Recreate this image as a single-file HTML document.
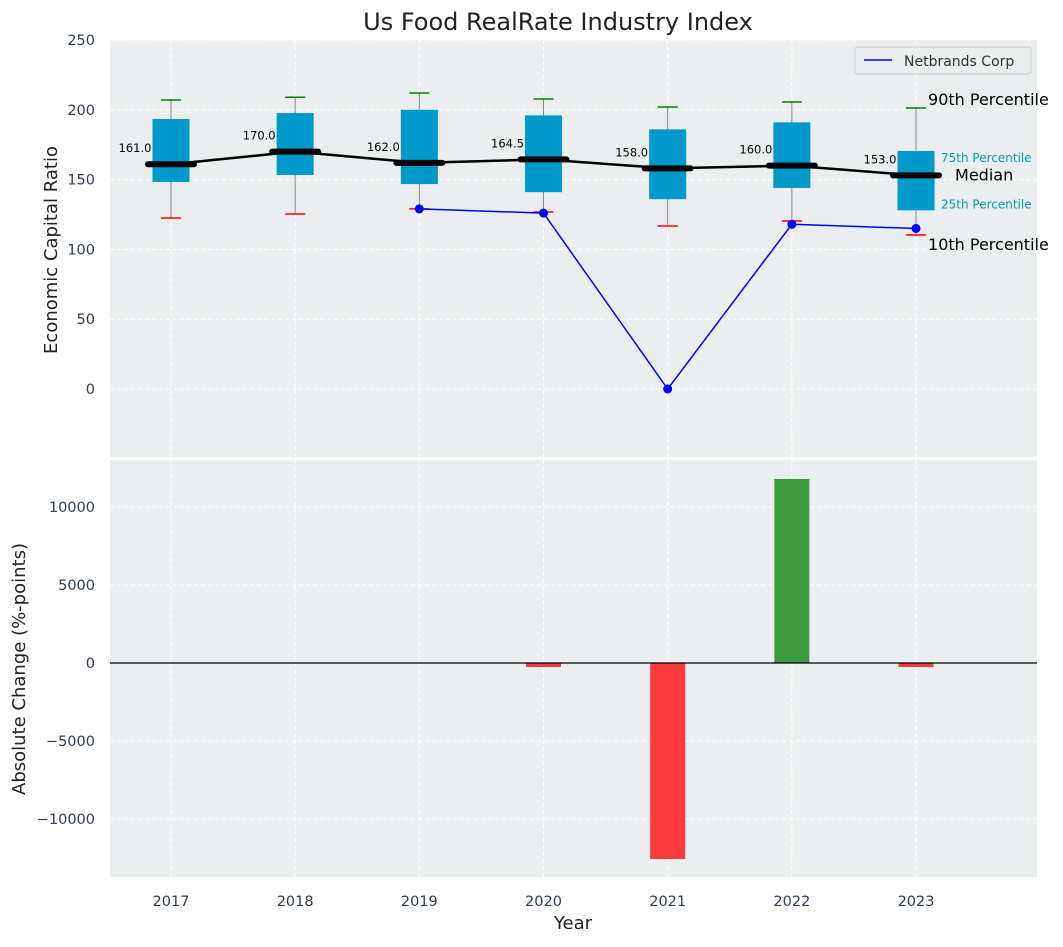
<!DOCTYPE html>
<html><head><meta charset="utf-8"><style>
body{margin:0;background:#fff;font-family:"Liberation Sans","DejaVu Sans",sans-serif}
svg text{font-family:"DejaVu Sans","Liberation Sans",sans-serif}
</style></head><body>
<svg id="c" width="1063" height="942" xmlns="http://www.w3.org/2000/svg"></svg>
<script>
const years=[2017,2018,2019,2020,2021,2022,2023];
const p10=[122.5,125.4,129,126.8,116.8,120.3,110.3];
const q1=[148.3,153.3,146.8,141,136,144,128];
const med=[161,170,162,164.5,158,160,153];
const q3=[193.4,197.7,200,196,186,191,170.5];
const p90=[207,209,212,207.7,202,205.6,201.3];
const companyYears=[2019,2020,2021,2022,2023];
const companyVals=[129,126,0,118,115];
const changeYears=[2020,2021,2022,2023];
const changeVals=[-256,-12564,11795,-256];
const topTicks=[0,50,100,150,200,250];
const botTicks=[-10000,-5000,0,5000,10000];

const svg=document.getElementById('c');const NS='http://www.w3.org/2000/svg';
function el(t,a,txt){const e=document.createElementNS(NS,t);for(const k in a)e.setAttribute(k,a[k]);if(txt!==undefined)e.textContent=txt;svg.appendChild(e);return e;}
const L=110,R=1037,T1=40,B1=457,T2=460,B2=877;
const X=y=>171+(y-2017)*124.17;
const Y1=v=>389-v*1.396;
const Y2=v=>663-v*0.0156;
let e;
e=el('rect',{x:L,y:T1,width:R-L,height:B1-T1,fill:'#eaeeef'});

e=el('rect',{x:L,y:T2,width:R-L,height:B2-T2,fill:'#eaeeef'});

years.forEach(y=>{el('line',{x1:X(y),x2:X(y),y1:T1,y2:B1,stroke:'#fff','stroke-dasharray':'4,3'});el('line',{x1:X(y),x2:X(y),y1:T2,y2:B2,stroke:'#fff','stroke-dasharray':'4,3'});
 e=el('text',{x:X(y),y:906,'text-anchor':'middle','font-size':14.5,fill:'#2e3e50'},y);
 });
topTicks.forEach(t=>{el('line',{x1:L,x2:R,y1:Y1(t),y2:Y1(t),stroke:'#fff','stroke-dasharray':'4,3'});
 e=el('text',{x:95,y:Y1(t)+5,'text-anchor':'end','font-size':14.5,fill:'#2e3e50'},t);
 });
botTicks.forEach(t=>{el('line',{x1:L,x2:R,y1:Y2(t),y2:Y2(t),stroke:'#fff','stroke-dasharray':'4,3'});
 e=el('text',{x:95,y:Y2(t)+5,'text-anchor':'end','font-size':14.5,fill:'#2e3e50'},t<0?'\u2212'+(-t):t);
 });
years.forEach((y,i)=>{const x=X(y);
 el('line',{x1:x,x2:x,y1:Y1(p10[i]),y2:Y1(p90[i]),stroke:'#888','stroke-width':1});
 e=el('rect',{x:x-18.5,y:Y1(q3[i]),width:37,height:Y1(q1[i])-Y1(q3[i]),fill:'#0099cc'});
 
 el('line',{x1:x-10,x2:x+10,y1:Y1(p90[i]),y2:Y1(p90[i]),stroke:'green','stroke-width':1.5});
 el('line',{x1:x-10,x2:x+10,y1:Y1(p10[i]),y2:Y1(p10[i]),stroke:'red','stroke-width':1.5});
});
let d=years.map((y,i)=>(i?'L':'M')+X(y)+','+Y1(med[i])).join('');
e=el('path',{d:d,fill:'none',stroke:'#000','stroke-width':2.5});

years.forEach((y,i)=>{const x=X(y);
 e=el('line',{x1:x-23,x2:x+23,y1:Y1(med[i]),y2:Y1(med[i]),stroke:'#000','stroke-width':6,'stroke-linecap':'round'});
 
 e=el('text',{x:x-36,y:Y1(med[i])-12,'text-anchor':'middle','font-size':11.5,fill:'#000'},med[i].toFixed(1));
 });
d=companyYears.map((y,i)=>(i?'L':'M')+X(y)+','+Y1(companyVals[i])).join('');
e=el('path',{d:d,fill:'none',stroke:'blue','stroke-width':1.5});

companyYears.forEach((y,i)=>{e=el('circle',{cx:X(y),cy:Y1(companyVals[i]),r:4.5,fill:'blue'});
 });
const ax=X(2023);
[['90th Percentile',ax+12,Y1(p90[6])-3,16,'#000'],['75th Percentile',ax+25,Y1(q3[6])+11,12,'#0099cc'],['Median',ax+39,Y1(med[6])+5,16,'#000'],['25th Percentile',ax+25,Y1(q1[6])-2,12,'#0099cc'],['10th Percentile',ax+12,Y1(p10[6])+15,16,'#000']].forEach(a=>{
 e=el('text',{x:a[1],y:a[2],'font-size':a[3],fill:a[4]},a[0]);
 });
e=el('rect',{x:855,y:47,width:176,height:27,rx:3,fill:'#eaeeef',stroke:'#ccc'});

el('line',{x1:864,x2:892,y1:60,y2:60,stroke:'blue','stroke-width':1.5});
e=el('text',{x:904,y:66,'font-size':14,fill:'#333'},'Netbrands Corp');

changeYears.forEach((y,i)=>{const v=changeVals[i];const y0=Y2(0),y1=Y2(v);
 e=el('rect',{x:X(y)-17.5,y:Math.min(y0,y1),width:35,height:Math.abs(y1-y0),fill:v>=0?'#3c9a3c':'#fc3c3c'});
 });
el('line',{x1:L,x2:R,y1:Y2(0),y2:Y2(0),stroke:'#000','stroke-width':1.2});
e=el('text',{x:558,y:30,'text-anchor':'middle','font-size':24,fill:'#222'},'Us Food RealRate Industry Index');

e=el('text',{x:573,y:929,'text-anchor':'middle','font-size':18,fill:'#222'},'Year');

e=el('text',{x:0,y:0,'text-anchor':'middle','font-size':18,fill:'#222',transform:'translate(57,250) rotate(-90)'},'Economic Capital Ratio');

e=el('text',{x:0,y:0,'text-anchor':'middle','font-size':18,fill:'#222',transform:'translate(25,669) rotate(-90)'},'Absolute Change (%-points)');

</script>
</body></html>
